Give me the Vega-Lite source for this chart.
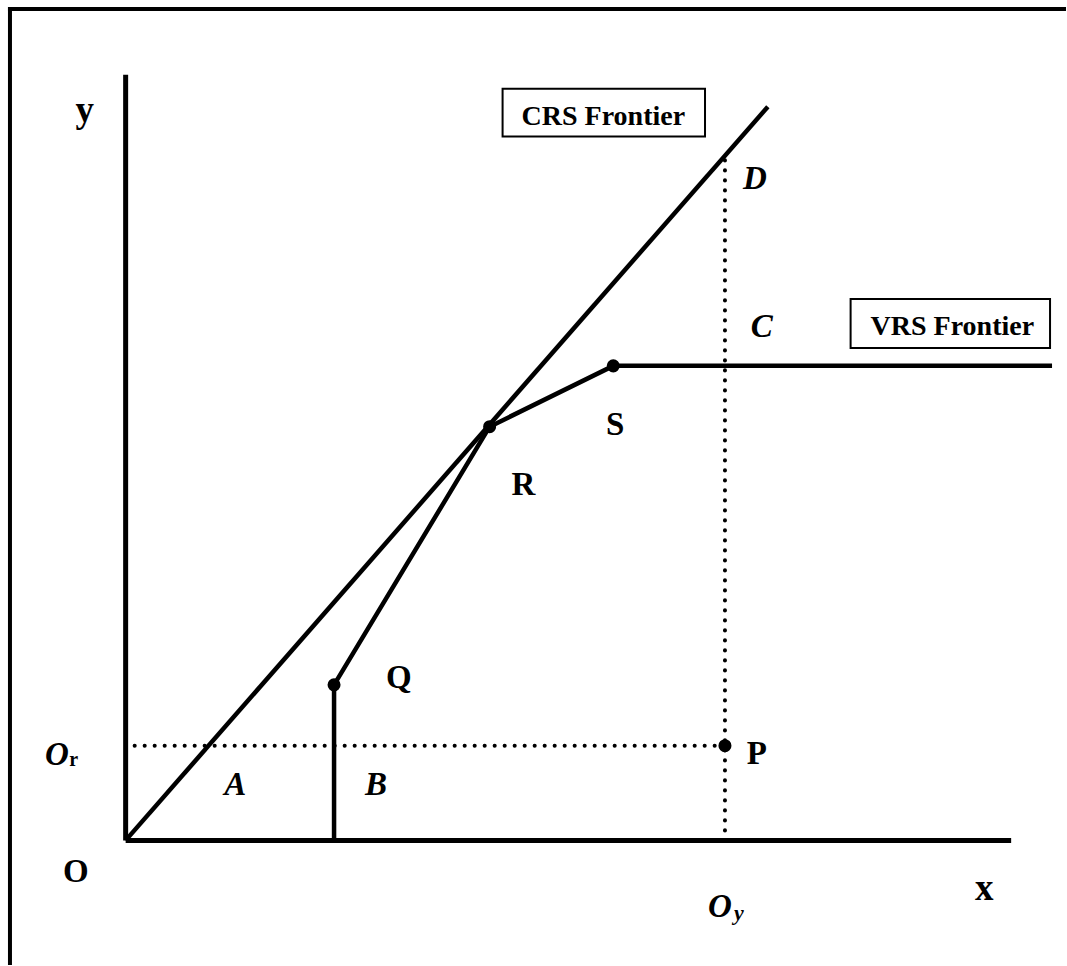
{
  "$schema": "https://vega.github.io/schema/vega-lite/v6.json",
  "width": 1067,
  "height": 966,
  "padding": 0,
  "autosize": {"type": "fit", "contains": "padding"},
  "background": "white",
  "config": {"view": {"stroke": null}},
  "datasets": {
    "segments": [
      {"kind": "frame", "u": -116, "v": 834, "u2": 941, "v2": 834},
      {"kind": "frame", "u": -116, "v": 834, "u2": -116, "v2": -123},
      {"kind": "axis", "u": 0, "v": 0, "u2": 0, "v2": 768},
      {"kind": "axis", "u": 0, "v": 0, "u2": 888, "v2": 0},
      {"kind": "crs", "u": 0, "v": 0, "u2": 644, "v2": 736},
      {"kind": "dot", "u": 601, "v": 0, "u2": 601, "v2": 691},
      {"kind": "dot", "u": 9, "v": 95, "u2": 601, "v2": 95}
    ],
    "vrs": [
      {"order": 1, "u": 209, "v": 0},
      {"order": 2, "u": 209, "v": 156},
      {"order": 3, "u": 365, "v": 415},
      {"order": 4, "u": 489, "v": 476},
      {"order": 5, "u": 929, "v": 476}
    ],
    "points": [
      {"name": "Q", "u": 209, "v": 156},
      {"name": "R", "u": 365, "v": 415},
      {"name": "S", "u": 489, "v": 476},
      {"name": "P", "u": 601, "v": 95}
    ],
    "boxes": [
      {"name": "CRS", "u": 378, "u2": 581, "v": 706, "v2": 754},
      {"name": "VRS", "u": 727, "u2": 927, "v": 494, "v2": 543}
    ],
    "labels": [
      {"style": "axisname", "label": "y", "u": -41, "v": 721},
      {"style": "axisname", "label": "x", "u": 861, "v": -60},
      {"style": "bold", "label": "O", "u": -50, "v": -42},
      {"style": "bold", "label": "P", "u": 633, "v": 77},
      {"style": "bold", "label": "Q", "u": 274, "v": 153},
      {"style": "bold", "label": "R", "u": 399, "v": 346},
      {"style": "bold", "label": "S", "u": 491, "v": 407},
      {"style": "italic", "label": "A", "u": 110, "v": 46},
      {"style": "italic", "label": "B", "u": 251, "v": 46},
      {"style": "italic", "label": "D", "u": 631, "v": 653},
      {"style": "italic", "label": "C", "u": 638, "v": 505},
      {"style": "italic", "label": "O", "u": -69, "v": 76},
      {"style": "italic", "label": "O", "u": 596, "v": -77},
      {"style": "sub", "label": "r", "u": -52, "v": 75},
      {"style": "subitalic", "label": "y", "u": 615, "v": -80},
      {"style": "box", "label": "CRS Frontier", "u": 479, "v": 718},
      {"style": "box", "label": "VRS Frontier", "u": 829, "v": 507}
    ]
  },
  "encoding": {
    "x": {"field": "u", "type": "quantitative", "scale": {"domain": [-126, 941], "nice": false, "zero": false}, "axis": null},
    "y": {"field": "v", "type": "quantitative", "scale": {"domain": [-123, 843], "nice": false, "zero": false}, "axis": null}
  },
  "layer": [
    {
      "data": {"name": "segments"},
      "transform": [{"filter": "datum.kind === 'frame'"}],
      "mark": {"type": "rule", "color": "black", "strokeWidth": 4, "strokeCap": "square"},
      "encoding": {"x2": {"field": "u2"}, "y2": {"field": "v2"}}
    },
    {
      "data": {"name": "segments"},
      "transform": [{"filter": "datum.kind === 'axis'"}],
      "mark": {"type": "rule", "color": "black", "strokeWidth": 5, "strokeCap": "butt"},
      "encoding": {"x2": {"field": "u2"}, "y2": {"field": "v2"}}
    },
    {
      "data": {"name": "segments"},
      "transform": [{"filter": "datum.kind === 'crs'"}],
      "mark": {"type": "rule", "color": "black", "strokeWidth": 4.5, "strokeCap": "butt"},
      "encoding": {"x2": {"field": "u2"}, "y2": {"field": "v2"}}
    },
    {
      "data": {"name": "segments"},
      "transform": [{"filter": "datum.kind === 'dot'"}],
      "mark": {"type": "rule", "color": "black", "strokeWidth": 4, "strokeCap": "round", "strokeDash": [0.1, 9.9]},
      "encoding": {"x2": {"field": "u2"}, "y2": {"field": "v2"}}
    },
    {
      "data": {"name": "vrs"},
      "mark": {"type": "line", "color": "black", "strokeWidth": 4.5, "strokeJoin": "round", "strokeCap": "butt"},
      "encoding": {"order": {"field": "order", "type": "quantitative"}}
    },
    {
      "data": {"name": "points"},
      "mark": {"type": "circle", "color": "black", "opacity": 1, "size": 170},
      "encoding": {}
    },
    {
      "data": {"name": "boxes"},
      "mark": {"type": "rect", "fill": "white", "stroke": "black", "strokeWidth": 2},
      "encoding": {"x2": {"field": "u2"}, "y2": {"field": "v2"}}
    },
    {
      "data": {"name": "labels"},
      "transform": [{"filter": "datum.style === 'axisname'"}],
      "mark": {"type": "text", "font": "Liberation Serif", "fontWeight": "bold", "fontSize": 37, "align": "center", "baseline": "alphabetic", "color": "black"},
      "encoding": {"text": {"field": "label"}}
    },
    {
      "data": {"name": "labels"},
      "transform": [{"filter": "datum.style === 'bold'"}],
      "mark": {"type": "text", "font": "Liberation Serif", "fontWeight": "bold", "fontSize": 33, "align": "center", "baseline": "alphabetic", "color": "black"},
      "encoding": {"text": {"field": "label"}}
    },
    {
      "data": {"name": "labels"},
      "transform": [{"filter": "datum.style === 'italic'"}],
      "mark": {"type": "text", "font": "Liberation Serif", "fontWeight": "bold", "fontStyle": "italic", "fontSize": 33, "align": "center", "baseline": "alphabetic", "color": "black"},
      "encoding": {"text": {"field": "label"}}
    },
    {
      "data": {"name": "labels"},
      "transform": [{"filter": "datum.style === 'sub'"}],
      "mark": {"type": "text", "font": "Liberation Serif", "fontWeight": "bold", "fontSize": 20, "align": "center", "baseline": "alphabetic", "color": "black"},
      "encoding": {"text": {"field": "label"}}
    },
    {
      "data": {"name": "labels"},
      "transform": [{"filter": "datum.style === 'subitalic'"}],
      "mark": {"type": "text", "font": "Liberation Serif", "fontWeight": "bold", "fontStyle": "italic", "fontSize": 22, "align": "center", "baseline": "alphabetic", "color": "black"},
      "encoding": {"text": {"field": "label"}}
    },
    {
      "data": {"name": "labels"},
      "transform": [{"filter": "datum.style === 'box'"}],
      "mark": {"type": "text", "font": "Liberation Serif", "fontWeight": "bold", "fontSize": 28, "align": "center", "baseline": "alphabetic", "color": "black"},
      "encoding": {"text": {"field": "label"}}
    }
  ]
}
